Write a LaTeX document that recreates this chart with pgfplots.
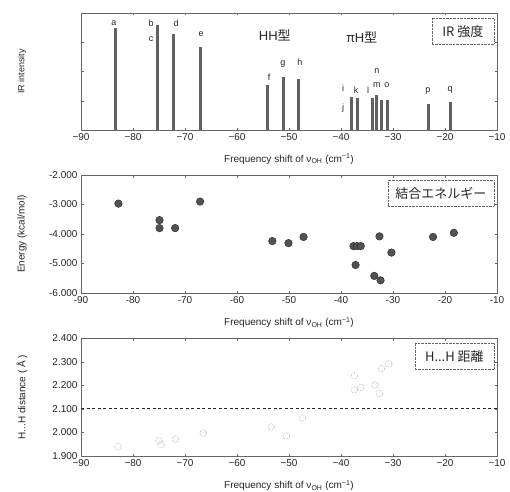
\documentclass[border=0pt]{standalone}
\usepackage{fontspec}
\setmainfont{Liberation Sans}
\newfontfamily\jp{Noto Sans CJK JP}
\usepackage{pgfplots}
\pgfplotsset{compat=1.18}

\pgfplotsset{
  panel/.style={
    scale only axis, width=416pt,
    xmin=-90, xmax=-10,
    xtick={-90,-80,-70,-60,-50,-40,-30,-20,-10},
    axis line style={black!60, line width=0.6pt},
    tick style={black!60},
    major tick length=2.5pt,
    font=\fontsize{10}{12}\selectfont,
    text=black!85,
    xlabel={Frequency shift of ν\textsubscript{OH} (cm\textsuperscript{−1})},
    xlabel style={at={(axis description cs:0.5,-0.25)}, anchor=center},
    ylabel style={at={(axis description cs:-0.142,0.5)}, anchor=center},
  },
}
\tikzset{
  boxlab/.style={draw=black!60, densely dotted, anchor=north east, inner sep=3pt,
    minimum height=26pt, font=\jp\fontsize{13}{13}\selectfont, text=black!85},
}

\begin{document}
\begin{tikzpicture}
\useasboundingbox (0,0) rectangle (510pt,491pt);

% IR intensity
\begin{axis}[panel, at={(81pt,361pt)}, anchor=south west, height=117pt,
  ymin=0, ymax=1, ytick={0.25,0.5,0.75}, yticklabels={},
  xticklabels={−90,−80,−70,−60,−50,−40,−30,−20,−10},
  ylabel={IR intensity}, ylabel style={font=\fontsize{9}{11}\selectfont}]
\addplot[ycomb, line width=3pt, black!62] coordinates {
  (-83.3,0.87) (-75.2,0.90) (-72.2,0.82) (-67.1,0.71)
  (-54.2,0.385) (-51.1,0.45) (-48.1,0.44)
  (-37.9,0.28) (-36.9,0.27) (-34.0,0.27) (-33.1,0.30) (-32.3,0.26) (-31.0,0.26)
  (-23.1,0.22) (-19.0,0.24)};
\begin{scope}[font=\fontsize{9}{9}\selectfont, text=black!85]
\node at (axis cs:-83.7,0.91) {a};
\node at (axis cs:-76.5,0.915) {b};
\node at (axis cs:-76.5,0.78) {c};
\node at (axis cs:-71.7,0.915) {d};
\node at (axis cs:-66.9,0.82) {e};
\node at (axis cs:-53.8,0.45) {f};
\node at (axis cs:-51.2,0.56) {g};
\node at (axis cs:-47.9,0.58) {h};
\node at (axis cs:-39.6,0.36) {i};
\node at (axis cs:-39.6,0.19) {j};
\node at (axis cs:-37.1,0.34) {k};
\node at (axis cs:-34.8,0.34) {l};
\node at (axis cs:-33.1,0.50) {n};
\node at (axis cs:-33.1,0.385) {m};
\node at (axis cs:-31.2,0.385) {o};
\node at (axis cs:-23.3,0.33) {p};
\node at (axis cs:-19.0,0.34) {q};
\end{scope}
\node[font=\fontsize{13}{13}\selectfont, text=black!85] at (rel axis cs:0.466,0.81) {HH{\jp 型}};
\node[font=\fontsize{13}{13}\selectfont, text=black!85] at (rel axis cs:0.675,0.795) {{\jp π}H{\jp 型}};
\node[boxlab, minimum width=62pt] at (rel axis cs:0.993,0.958) {IR 強度};
\end{axis}

% binding energy
\begin{axis}[panel, at={(81pt,198pt)}, anchor=south west, height=118pt,
  ymin=-6, ymax=-2, ytick={-6,-5,-4,-3,-2},
  yticklabels={-6.000,-5.000,-4.000,-3.000,-2.000},
  xticklabels={-90,-80,-70,-60,-50,-40,-30,-20,-10},
  ylabel={Energy (kcal/mol)}]
\addplot[only marks, mark=*, mark size=3.8pt, mark options={fill=black!68, draw=black!85}] coordinates {
  (-82.8,-2.97) (-74.9,-3.53) (-74.9,-3.80) (-71.9,-3.80) (-67.1,-2.90)
  (-53.2,-4.24) (-50.1,-4.31) (-47.2,-4.10)
  (-37.6,-4.41) (-36.9,-4.41) (-36.2,-4.41) (-37.2,-5.05)
  (-32.6,-4.08) (-30.3,-4.63) (-33.6,-5.42) (-32.4,-5.57)
  (-22.3,-4.10) (-18.3,-3.96)};
\node[boxlab, minimum width=106pt] at (rel axis cs:0.993,0.958) {結合エネルギー};
\end{axis}

% H...H distance
\begin{axis}[panel, at={(81pt,35pt)}, anchor=south west, height=118pt,
  ymin=1.9, ymax=2.4, ytick={1.9,2,2.1,2.2,2.3,2.4},
  yticklabels={1.900,2.000,2.100,2.200,2.300,2.400},
  xticklabels={−90,−80,−70,−60,−50,−40,−30,−20,−10},
  ylabel={H...H distance ( Å )}]
\addplot[black!85, line width=1.1pt, dash pattern=on 3pt off 2.5pt] coordinates {(-90,2.1) (-10,2.1)};
\addplot[only marks, mark=o, mark size=3.3pt, mark options={draw=black!35, densely dotted, line width=0.6pt}] coordinates {
  (-82.9,1.94) (-75.0,1.965) (-74.6,1.948) (-71.8,1.972) (-66.5,1.997)
  (-53.4,2.023) (-50.5,1.985) (-47.4,2.061)
  (-37.4,2.24) (-37.4,2.18) (-36.2,2.19) (-33.5,2.20) (-32.6,2.165)
  (-32.2,2.27) (-30.8,2.29)};
\node[boxlab, minimum width=79pt] at (rel axis cs:0.993,0.958) {H...H 距離};
\end{axis}
\end{tikzpicture}
\end{document}
